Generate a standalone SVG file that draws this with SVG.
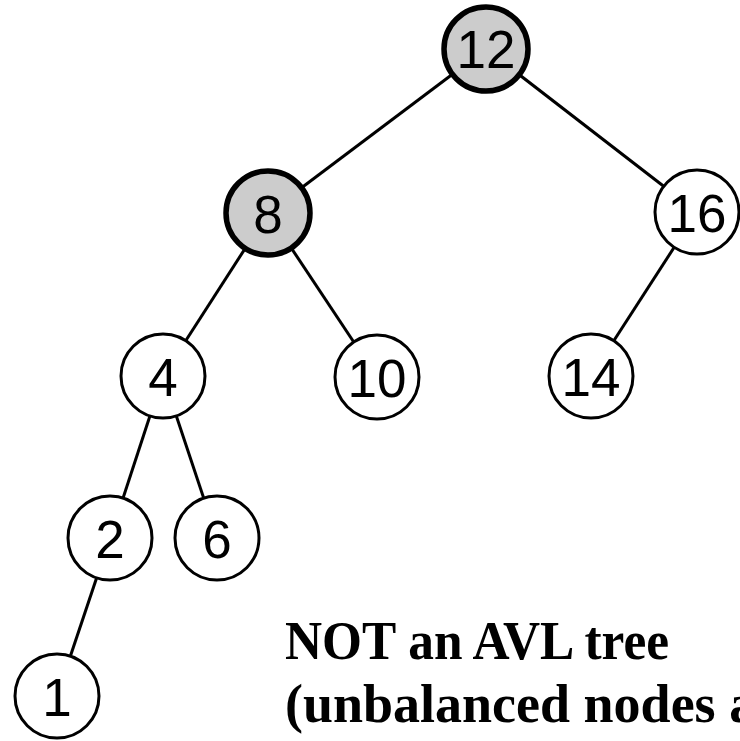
<svg xmlns="http://www.w3.org/2000/svg" width="740" height="741" viewBox="0 0 740 741">
  <style>
    .edge { stroke: #000; stroke-width: 3; fill: none; }
    .node { fill: #fff; stroke: #000; stroke-width: 3; }
    .node.bad { fill: #cccccc; stroke-width: 5.5; }
    .lbl { font-family: "Liberation Sans", Arial, sans-serif; font-size: 53px; fill: #000; text-anchor: middle; }
    .caption { font-family: "Liberation Serif", "Times New Roman", serif; font-weight: bold; font-size: 54px; fill: #000; }
  </style>
  <rect width="740" height="741" fill="#fff"/>

  <!-- tree edges, drawn beneath the nodes -->
  <g id="edges">
    <line class="edge" x1="486" y1="49" x2="268" y2="213"/>
    <line class="edge" x1="486" y1="49" x2="697" y2="212"/>
    <line class="edge" x1="268" y1="213" x2="163" y2="376"/>
    <line class="edge" x1="268" y1="213" x2="377" y2="377"/>
    <line class="edge" x1="697" y1="212" x2="591" y2="376"/>
    <line class="edge" x1="163" y1="376" x2="110" y2="538"/>
    <line class="edge" x1="163" y1="376" x2="217" y2="538"/>
    <line class="edge" x1="110" y1="538" x2="57" y2="696"/>
  </g>

  <g id="n12">
    <circle class="node bad" cx="486" cy="49" r="42"/>
    <text class="lbl" x="486" y="68">12</text>
  </g>
  <g id="n8">
    <circle class="node bad" cx="268" cy="213" r="42"/>
    <text class="lbl" x="268" y="233">8</text>
  </g>
  <g id="n16">
    <circle class="node" cx="697" cy="212" r="42"/>
    <text class="lbl" x="697" y="232">16</text>
  </g>
  <g id="n4">
    <circle class="node" cx="163" cy="376" r="42"/>
    <text class="lbl" x="163" y="396">4</text>
  </g>
  <g id="n10">
    <circle class="node" cx="377" cy="377" r="42"/>
    <text class="lbl" x="377" y="397">10</text>
  </g>
  <g id="n14">
    <circle class="node" cx="591" cy="376" r="42"/>
    <text class="lbl" x="591" y="396">14</text>
  </g>
  <g id="n2">
    <circle class="node" cx="110" cy="538" r="42"/>
    <text class="lbl" x="110" y="558">2</text>
  </g>
  <g id="n6">
    <circle class="node" cx="217" cy="538" r="42"/>
    <text class="lbl" x="217" y="558">6</text>
  </g>
  <g id="n1">
    <circle class="node" cx="57" cy="696" r="42"/>
    <text class="lbl" x="57" y="716">1</text>
  </g>

  <g id="caption">
    <text class="caption" x="285" y="659" textLength="384" lengthAdjust="spacingAndGlyphs">NOT an AVL tree</text>
    <text class="caption" x="285" y="722">(unbalanced nodes a</text>
  </g>
</svg>
